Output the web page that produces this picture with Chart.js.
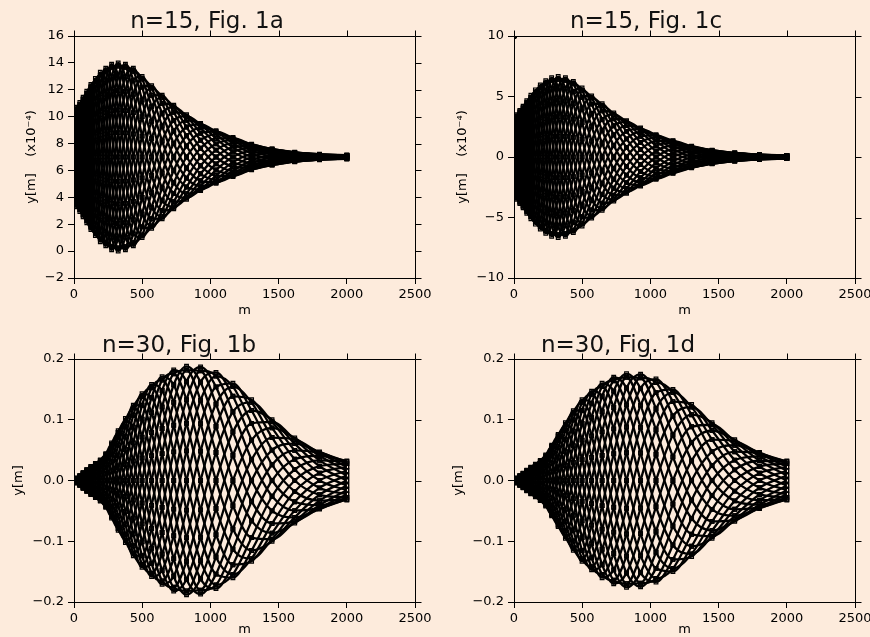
<!DOCTYPE html>
<html><head><meta charset="utf-8">
<script src="https://cdn.jsdelivr.net/npm/chart.js@4.4.1/dist/chart.umd.min.js"></script>
<style>
html,body{margin:0;padding:0;background:#fdebdc;width:870px;height:637px;overflow:hidden}
canvas{position:absolute;display:block}
</style></head><body>
<canvas id="c1a" width="435" height="318" style="left:0;top:0;width:435px;height:318px"></canvas>
<canvas id="c1c" width="435" height="318" style="left:435px;top:0;width:435px;height:318px"></canvas>
<canvas id="c1b" width="435" height="319" style="left:0;top:318px;width:435px;height:319px"></canvas>
<canvas id="c1d" width="435" height="319" style="left:435px;top:318px;width:435px;height:319px"></canvas>
<script>
// ---- data ----
const mValues = [0,20,43,67,94,124,157,193,233,276,324,377,435,499,569,646,731,825,928,1041,1165,1302,1452,1618,1800,2000];
const xTickValues = [0,500,1000,1500,2000,2500];
const xTickLabels = ['0','500','1000','1500','2000','2500'];
const yTicks1a = [-2,0,2,4,6,8,10,12,14,16];
const yTickLabels1a = ['\u22122','0','2','4','6','8','10','12','14','16'];
const yTicks1c = [-10,-5,0,5,10];
const yTickLabels1c = ['\u221210','\u22125','0','5','10'];
const yTicksB = [-0.2,-0.1,0,0.1,0.2];
const yTickLabelsB = ['\u22120.2','\u22120.1','0.0','0.1','0.2'];

const fig1a = [
[10.4,10.2,9.03,7,4.55,2.32,1.15,1.54,3.7,7,10.5,12.98,13.6,12.2,9.65,7,5.08,4.27,4.5,5.31,6.28,7,7.3,7.3,7.2,7.11],
[9.94,8.85,7,4.78,2.76,1.6,1.93,3.85,7,10.45,13.06,13.9,12.72,10,7,4.7,3.67,3.85,4.84,6.03,7,7.48,7.52,7.35,7.17,7.07],
[8.7,7,4.98,3.15,2.1,2.32,4.08,7,10.3,12.98,14,12.98,10.3,7,4.35,3.02,3.15,4.27,5.75,7,7.73,7.82,7.6,7.3,7.1,7],
[7,5.15,3.49,2.55,2.76,4.3,7,10.15,12.72,13.9,13.06,10.45,7,4,2.41,2.4,3.67,5.43,7,7.98,8.26,7.95,7.52,7.18,7,6.94],
[5.3,3.8,2.95,3.15,4.55,7,9.93,12.46,13.6,12.98,10.5,7,3.7,1.8,1.7,3.02,5.08,7,8.25,8.69,8.45,7.82,7.3,7,6.9,6.89],
[4.06,3.3,3.49,4.78,7,9.7,12.07,13.3,12.72,10.45,7,3.55,1.28,1,2.41,4.7,7,8.58,9.17,8.95,8.26,7.48,7,6.83,6.83,6.87],
[3.6,3.8,4.98,7,9.45,11.68,12.85,12.46,10.3,7,3.5,1.02,0.4,1.8,4.35,7,8.93,9.73,9.5,8.69,7.73,7,6.7,6.7,6.8,6.89],
[4.06,5.15,7,9.23,11.24,12.4,12.07,10.15,7,3.55,0.94,0.1,1.28,4,7,9.3,10.33,10.15,9.17,7.98,7,6.53,6.48,6.65,6.83,6.94],
[5.3,7,9.03,10.85,11.9,11.68,9.93,7,3.7,1.02,0,1.02,3.7,7,9.65,10.98,10.85,9.73,8.25,7,6.28,6.18,6.4,6.7,6.9,7],
[7,8.85,10.51,11.45,11.24,9.7,7,3.85,1.28,0.1,0.94,3.55,7,10,11.59,11.6,10.33,8.58,7,6.03,5.74,6.05,6.48,6.83,7,7.07],
[8.7,10.2,11.05,10.85,9.45,7,4.08,1.54,0.4,1.02,3.5,7,10.3,12.2,12.3,10.98,8.93,7,5.75,5.31,5.55,6.18,6.7,7,7.1,7.11],
[9.94,10.7,10.51,9.23,7,4.3,1.93,0.7,1.28,3.55,7,10.45,12.72,13,11.59,9.3,7,5.43,4.84,5.05,5.74,6.53,7,7.18,7.17,7.13]
];
const fig1aHalf = [
[10.28,9.62,8.05,5.85,3.54,1.78,1.35,2.55,5.29,8.79,11.95,13.67,13.38,11.24,8.37,5.81,4.28,3.96,4.58,5.62,6.62,7.25,7.42,7.34,7.19,7.09],
[9.4,7.96,5.95,3.85,2.27,1.78,2.86,5.37,8.71,11.88,13.76,13.67,11.67,8.55,5.63,3.75,3.28,3.96,5.23,6.49,7.38,7.67,7.58,7.34,7.14,7.03],
[7.88,6.04,4.14,2.7,2.27,3.18,5.48,8.63,11.67,13.67,13.76,11.88,8.71,5.45,3.25,2.56,3.28,4.77,6.35,7.51,8.03,7.92,7.58,7.25,7.05,6.97],
[6.12,4.38,3.09,2.7,3.54,5.6,8.52,11.45,13.38,13.67,11.95,8.79,5.29,2.76,1.88,2.56,4.28,6.18,7.65,8.38,8.4,7.92,7.42,7.09,6.95,6.91],
[4.6,3.43,3.09,3.85,5.73,8.4,11.14,13.09,13.38,11.88,8.81,5.21,2.33,1.2,1.88,3.75,6,7.82,8.77,8.88,8.4,7.67,7.16,6.91,6.86,6.87],
[3.72,3.43,4.14,5.85,8.27,10.82,12.65,13.09,11.67,8.79,5.19,2.12,0.62,1.2,3.25,5.81,8,9.23,9.42,8.88,8.03,7.25,6.84,6.75,6.81,6.87],
[3.72,4.38,5.95,8.15,10.46,12.22,12.65,11.45,8.71,5.21,2.05,0.33,0.62,2.76,5.63,8.19,9.72,10.04,9.42,8.38,7.38,6.75,6.58,6.66,6.81,6.91],
[4.6,6.04,8.05,10.15,11.73,12.22,11.14,8.63,5.29,2.12,0.24,0.33,2.33,5.45,8.37,10.25,10.72,10.04,8.77,7.51,6.62,6.33,6.42,6.66,6.86,6.97],
[6.12,7.96,9.86,11.3,11.73,10.82,8.52,5.37,2.33,0.33,0.24,2.12,5.29,8.55,10.75,11.44,10.72,9.23,7.65,6.49,5.97,6.08,6.42,6.75,6.95,7.03],
[7.88,9.62,10.91,11.3,10.46,8.4,5.48,2.55,0.62,0.33,2.05,5.21,8.71,11.24,12.12,11.44,9.72,7.82,6.35,5.62,5.6,6.08,6.58,6.91,7.05,7.09],
[9.4,10.57,10.91,10.15,8.27,5.6,2.86,0.91,0.62,2.12,5.19,8.79,11.67,12.8,12.12,10.25,8,6.18,5.23,5.12,5.6,6.33,6.84,7.09,7.14,7.13],
[10.28,10.57,9.86,8.15,5.73,3.18,1.35,0.91,2.33,5.21,8.81,11.88,13.38,12.8,10.75,8.19,6,4.77,4.58,5.12,5.97,6.75,7.16,7.25,7.19,7.13]
];

const fig1c = [
[3.2,3.03,1.93,0,-2.33,-4.42,-5.55,-5.15,-3.15,0,3.33,5.67,6.25,4.94,2.53,0,-1.83,-2.6,-2.4,-1.6,-0.68,0,0.29,0.29,0.2,0.11],
[2.77,1.75,0,-2.1,-4.03,-5.1,-4.81,-2.98,0,3.28,5.76,6.55,5.41,2.85,0,-2.2,-3.16,-3,-2.08,-0.93,0,0.45,0.49,0.34,0.17,0.07],
[1.6,0,-1.93,-3.64,-4.65,-4.42,-2.78,0,3.15,5.67,6.65,5.67,3.13,0,-2.53,-3.81,-3.65,-2.6,-1.2,0,0.68,0.78,0.57,0.29,0.1,0],
[0,-1.75,-3.33,-4.2,-4.03,-2.55,0,2.98,5.46,6.55,5.76,3.28,0,-2.85,-4.37,-4.4,-3.16,-1.5,0,0.93,1.17,0.9,0.49,0.17,0,-0.07],
[-1.6,-3.03,-3.85,-3.64,-2.33,0,2.78,5.15,6.3,5.67,3.33,0,-3.13,-4.94,-5.05,-3.81,-1.83,0,1.2,1.6,1.35,0.78,0.29,0,-0.1,-0.11],
[-2.77,-3.5,-3.33,-2.1,0,2.55,4.81,5.95,5.46,3.28,0,-3.28,-5.41,-5.7,-4.37,-2.2,0,1.5,2.08,1.85,1.17,0.45,0,-0.17,-0.17,-0.13],
[-3.2,-3.03,-1.93,0,2.33,4.42,5.55,5.15,3.15,0,-3.33,-5.67,-6.25,-4.94,-2.53,0,1.83,2.6,2.4,1.6,0.68,0,-0.29,-0.29,-0.2,-0.11],
[-2.77,-1.75,0,2.1,4.03,5.1,4.81,2.98,0,-3.28,-5.76,-6.55,-5.41,-2.85,0,2.2,3.16,3,2.08,0.93,0,-0.45,-0.49,-0.34,-0.17,-0.07],
[-1.6,0,1.93,3.64,4.65,4.42,2.78,0,-3.15,-5.67,-6.65,-5.67,-3.13,0,2.53,3.81,3.65,2.6,1.2,0,-0.68,-0.78,-0.57,-0.29,-0.1,0],
[0,1.75,3.33,4.2,4.03,2.55,0,-2.98,-5.46,-6.55,-5.76,-3.28,0,2.85,4.37,4.4,3.16,1.5,0,-0.93,-1.17,-0.9,-0.49,-0.17,0,0.07],
[1.6,3.03,3.85,3.64,2.33,0,-2.78,-5.15,-6.3,-5.67,-3.33,0,3.13,4.94,5.05,3.81,1.83,0,-1.2,-1.6,-1.35,-0.78,-0.29,0,0.1,0.11],
[2.77,3.5,3.33,2.1,0,-2.55,-4.81,-5.95,-5.46,-3.28,0,3.28,5.41,5.7,4.37,2.2,0,-1.5,-2.08,-1.85,-1.17,-0.45,0,0.17,0.17,0.13]
];
const fig1cHalf = [
[3.09,2.47,1.0,-1.09,-3.29,-4.93,-5.36,-4.21,-1.63,1.7,4.7,6.33,6.04,4.03,1.31,-1.14,-2.58,-2.9,-2.32,-1.31,-0.35,0.23,0.4,0.33,0.19,0.09],
[2.26,0.91,-1.0,-2.97,-4.49,-4.93,-3.92,-1.54,1.63,4.63,6.42,6.33,4.42,1.48,-1.31,-3.11,-3.53,-2.9,-1.7,-0.48,0.35,0.64,0.55,0.33,0.14,0.03],
[0.83,-0.91,-2.72,-4.06,-4.49,-3.61,-1.44,1.54,4.45,6.33,6.42,4.63,1.62,-1.48,-3.57,-4.25,-3.53,-2.12,-0.62,0.48,0.95,0.87,0.55,0.24,0.05,-0.03],
[-0.83,-2.47,-3.72,-4.06,-3.29,-1.32,1.44,4.21,6.09,6.33,4.7,1.7,-1.62,-4.03,-4.88,-4.25,-2.58,-0.78,0.62,1.31,1.3,0.87,0.4,0.09,-0.05,-0.09],
[-2.26,-3.38,-3.72,-2.97,-1.2,1.32,3.92,5.75,6.09,4.63,1.72,-1.7,-4.42,-5.51,-4.88,-3.11,-0.95,0.78,1.7,1.79,1.3,0.64,0.15,-0.09,-0.14,-0.13],
[-3.09,-3.38,-2.72,-1.09,1.2,3.61,5.36,5.75,4.45,1.7,-1.72,-4.63,-6.04,-5.51,-3.57,-1.14,0.95,2.12,2.32,1.79,0.95,0.23,-0.15,-0.24,-0.19,-0.13],
[-3.09,-2.47,-1.0,1.09,3.29,4.93,5.36,4.21,1.63,-1.7,-4.7,-6.33,-6.04,-4.03,-1.31,1.14,2.58,2.9,2.32,1.31,0.35,-0.23,-0.4,-0.33,-0.19,-0.09],
[-2.26,-0.91,1.0,2.97,4.49,4.93,3.92,1.54,-1.63,-4.63,-6.42,-6.33,-4.42,-1.48,1.31,3.11,3.53,2.9,1.7,0.48,-0.35,-0.64,-0.55,-0.33,-0.14,-0.03],
[-0.83,0.91,2.72,4.06,4.49,3.61,1.44,-1.54,-4.45,-6.33,-6.42,-4.63,-1.62,1.48,3.57,4.25,3.53,2.12,0.62,-0.48,-0.95,-0.87,-0.55,-0.24,-0.05,0.03],
[0.83,2.47,3.72,4.06,3.29,1.32,-1.44,-4.21,-6.09,-6.33,-4.7,-1.7,1.62,4.03,4.88,4.25,2.58,0.78,-0.62,-1.31,-1.3,-0.87,-0.4,-0.09,0.05,0.09],
[2.26,3.38,3.72,2.97,1.2,-1.32,-3.92,-5.75,-6.09,-4.63,-1.72,1.7,4.42,5.51,4.88,3.11,0.95,-0.78,-1.7,-1.79,-1.3,-0.64,-0.15,0.09,0.14,0.13],
[3.09,3.38,2.72,1.09,-1.2,-3.61,-5.36,-5.75,-4.45,-1.7,1.72,4.63,6.04,5.51,3.57,1.14,-0.95,-2.12,-2.32,-1.79,-0.95,-0.23,0.15,0.24,0.19,0.13]
];
const fig1cStray = [{x:0, y:10}];

const fig1b = [
[0,0.0035,0.004,0,-0.009,-0.0199,-0.028,-0.0294,-0.022,0,0.041,0.0883,0.124,0.1238,0.079,0,-0.091,-0.1628,-0.187,-0.1541,-0.08,0,0.05,0.0606,0.047,0.0277],
[0,0.002,0,-0.0065,-0.0156,-0.023,-0.0242,-0.017,0,0.031,0.071,0.102,0.1074,0.0715,0,-0.0855,-0.1576,-0.188,-0.1619,-0.089,0,0.0665,0.0866,0.07,0.0407,0.016],
[0,0,-0.004,-0.0113,-0.018,-0.0199,-0.014,0,0.022,0.0537,0.082,0.0883,0.062,0,-0.079,-0.1481,-0.182,-0.1628,-0.0935,0,0.08,0.1152,0.1,0.0606,0.0235,0],
[0,-0.002,-0.0069,-0.013,-0.0156,-0.0115,0,0.017,0.0381,0.062,0.071,0.051,0,-0.0715,-0.1368,-0.171,-0.1576,-0.094,0,0.089,0.1386,0.133,0.0866,0.035,0,-0.016],
[0,-0.0035,-0.008,-0.0113,-0.009,0,0.014,0.0294,0.044,0.0537,0.041,0,-0.062,-0.1238,-0.158,-0.1481,-0.091,0,0.0935,0.1541,0.16,0.1152,0.05,0,-0.0235,-0.0277],
[0,-0.004,-0.0069,-0.0065,0,0.0115,0.0242,0.034,0.0381,0.031,0,-0.051,-0.1074,-0.143,-0.1368,-0.0855,0,0.094,0.1619,0.178,0.1386,0.0665,0,-0.035,-0.0407,-0.032],
[0,-0.0035,-0.004,0,0.009,0.0199,0.028,0.0294,0.022,0,-0.041,-0.0883,-0.124,-0.1238,-0.079,0,0.091,0.1628,0.187,0.1541,0.08,0,-0.05,-0.0606,-0.047,-0.0277],
[0,-0.002,0,0.0065,0.0156,0.023,0.0242,0.017,0,-0.031,-0.071,-0.102,-0.1074,-0.0715,0,0.0855,0.1576,0.188,0.1619,0.089,0,-0.0665,-0.0866,-0.07,-0.0407,-0.016],
[0,0,0.004,0.0113,0.018,0.0199,0.014,0,-0.022,-0.0537,-0.082,-0.0883,-0.062,0,0.079,0.1481,0.182,0.1628,0.0935,0,-0.08,-0.1152,-0.1,-0.0606,-0.0235,0],
[0,0.002,0.0069,0.013,0.0156,0.0115,0,-0.017,-0.0381,-0.062,-0.071,-0.051,0,0.0715,0.1368,0.171,0.1576,0.094,0,-0.089,-0.1386,-0.133,-0.0866,-0.035,0,0.016],
[0,0.0035,0.008,0.0113,0.009,0,-0.014,-0.0294,-0.044,-0.0537,-0.041,0,0.062,0.1238,0.158,0.1481,0.091,0,-0.0935,-0.1541,-0.16,-0.1152,-0.05,0,0.0235,0.0277],
[0,0.004,0.0069,0.0065,0,-0.0115,-0.0242,-0.034,-0.0381,-0.031,0,0.051,0.1074,0.143,0.1368,0.0855,0,-0.094,-0.1619,-0.178,-0.1386,-0.0665,0,0.035,0.0407,0.032]
];
const fig1bHalf = [
[0,0.0028,0.0021,-0.0034,-0.0127,-0.0222,-0.027,-0.024,-0.0114,0.0161,0.058,0.0985,0.1198,0.1011,0.0409,-0.0443,-0.1287,-0.1816,-0.1806,-0.1258,-0.0414,0.0344,0.0707,0.0676,0.0454,0.0226],
[0,0.001,-0.0021,-0.0092,-0.0174,-0.0222,-0.0198,-0.0088,0.0114,0.0438,0.0792,0.0985,0.0877,0.037,-0.0409,-0.1209,-0.1758,-0.1816,-0.1322,-0.0461,0.0414,0.094,0.0966,0.0676,0.0332,0.0083],
[0,-0.001,-0.0057,-0.0126,-0.0174,-0.0163,-0.0073,0.0088,0.0311,0.0599,0.0792,0.0721,0.0321,-0.037,-0.1117,-0.1652,-0.1758,-0.1329,-0.0484,0.0461,0.1131,0.1285,0.0966,0.0495,0.0122,-0.0083],
[0,-0.0028,-0.0077,-0.0126,-0.0127,-0.006,0.0073,0.024,0.0425,0.0599,0.058,0.0264,-0.0321,-0.1011,-0.1526,-0.1652,-0.1287,-0.0487,0.0484,0.1258,0.1546,0.1285,0.0707,0.0181,-0.0122,-0.0226],
[0,-0.0039,-0.0077,-0.0092,-0.0047,0.006,0.0198,0.0328,0.0425,0.0438,0.0212,-0.0264,-0.0877,-0.1381,-0.1526,-0.1209,-0.0471,0.0487,0.1322,0.1719,0.1546,0.094,0.0259,-0.0181,-0.0332,-0.0309],
[0,-0.0039,-0.0057,-0.0034,0.0047,0.0163,0.027,0.0328,0.0311,0.0161,-0.0212,-0.0721,-0.1198,-0.1381,-0.1117,-0.0443,0.0471,0.1329,0.1806,0.1719,0.1131,0.0344,-0.0259,-0.0495,-0.0454,-0.0309],
[0,-0.0028,-0.0021,0.0034,0.0127,0.0222,0.027,0.024,0.0114,-0.0161,-0.058,-0.0985,-0.1198,-0.1011,-0.0409,0.0443,0.1287,0.1816,0.1806,0.1258,0.0414,-0.0344,-0.0707,-0.0676,-0.0454,-0.0226],
[0,-0.001,0.0021,0.0092,0.0174,0.0222,0.0198,0.0088,-0.0114,-0.0438,-0.0792,-0.0985,-0.0877,-0.037,0.0409,0.1209,0.1758,0.1816,0.1322,0.0461,-0.0414,-0.094,-0.0966,-0.0676,-0.0332,-0.0083],
[0,0.001,0.0057,0.0126,0.0174,0.0163,0.0073,-0.0088,-0.0311,-0.0599,-0.0792,-0.0721,-0.0321,0.037,0.1117,0.1652,0.1758,0.1329,0.0484,-0.0461,-0.1131,-0.1285,-0.0966,-0.0495,-0.0122,0.0083],
[0,0.0028,0.0077,0.0126,0.0127,0.006,-0.0073,-0.024,-0.0425,-0.0599,-0.058,-0.0264,0.0321,0.1011,0.1526,0.1652,0.1287,0.0487,-0.0484,-0.1258,-0.1546,-0.1285,-0.0707,-0.0181,0.0122,0.0226],
[0,0.0039,0.0077,0.0092,0.0047,-0.006,-0.0198,-0.0328,-0.0425,-0.0438,-0.0212,0.0264,0.0877,0.1381,0.1526,0.1209,0.0471,-0.0487,-0.1322,-0.1719,-0.1546,-0.094,-0.0259,0.0181,0.0332,0.0309],
[0,0.0039,0.0057,0.0034,-0.0047,-0.0163,-0.027,-0.0328,-0.0311,-0.0161,0.0212,0.0721,0.1198,0.1381,0.1117,0.0443,-0.0471,-0.1329,-0.1806,-0.1719,-0.1131,-0.0344,0.0259,0.0495,0.0454,0.0309]
];

const fig1d = [
[0,0.0035,0.004,0,-0.0085,-0.0191,-0.027,-0.0286,-0.021,0,0.038,0.0823,0.115,0.1152,0.0735,0,-0.085,-0.1524,-0.175,-0.1446,-0.075,0,0.0475,0.058,0.046,0.0277],
[0,0.002,0,-0.006,-0.0147,-0.022,-0.0234,-0.0165,0,0.029,0.0658,0.095,0.0996,0.0665,0,-0.08,-0.1472,-0.176,-0.1516,-0.0835,0,0.0625,0.0823,0.067,0.0398,0.016],
[0,0,-0.004,-0.0104,-0.017,-0.0191,-0.0135,0,0.021,0.0502,0.076,0.0823,0.0575,0,-0.0735,-0.1386,-0.17,-0.1524,-0.0875,0,0.075,0.1083,0.095,0.058,0.023,0],
[0,-0.002,-0.0069,-0.012,-0.0147,-0.011,0,0.0165,0.0364,0.058,0.0658,0.0475,0,-0.0665,-0.1273,-0.16,-0.1472,-0.088,0,0.0835,0.1299,0.125,0.0823,0.0335,0,-0.016],
[0,-0.0035,-0.008,-0.0104,-0.0085,0,0.0135,0.0286,0.042,0.0502,0.038,0,-0.0575,-0.1152,-0.147,-0.1386,-0.085,0,0.0875,0.1446,0.15,0.1083,0.0475,0,-0.023,-0.0277],
[0,-0.004,-0.0069,-0.006,0,0.011,0.0234,0.033,0.0364,0.029,0,-0.0475,-0.0996,-0.133,-0.1273,-0.08,0,0.088,0.1516,0.167,0.1299,0.0625,0,-0.0335,-0.0398,-0.032],
[0,-0.0035,-0.004,0,0.0085,0.0191,0.027,0.0286,0.021,0,-0.038,-0.0823,-0.115,-0.1152,-0.0735,0,0.085,0.1524,0.175,0.1446,0.075,0,-0.0475,-0.058,-0.046,-0.0277],
[0,-0.002,0,0.006,0.0147,0.022,0.0234,0.0165,0,-0.029,-0.0658,-0.095,-0.0996,-0.0665,0,0.08,0.1472,0.176,0.1516,0.0835,0,-0.0625,-0.0823,-0.067,-0.0398,-0.016],
[0,0,0.004,0.0104,0.017,0.0191,0.0135,0,-0.021,-0.0502,-0.076,-0.0823,-0.0575,0,0.0735,0.1386,0.17,0.1524,0.0875,0,-0.075,-0.1083,-0.095,-0.058,-0.023,0],
[0,0.002,0.0069,0.012,0.0147,0.011,0,-0.0165,-0.0364,-0.058,-0.0658,-0.0475,0,0.0665,0.1273,0.16,0.1472,0.088,0,-0.0835,-0.1299,-0.125,-0.0823,-0.0335,0,0.016],
[0,0.0035,0.008,0.0104,0.0085,0,-0.0135,-0.0286,-0.042,-0.0502,-0.038,0,0.0575,0.1152,0.147,0.1386,0.085,0,-0.0875,-0.1446,-0.15,-0.1083,-0.0475,0,0.023,0.0277],
[0,0.004,0.0069,0.006,0,-0.011,-0.0234,-0.033,-0.0364,-0.029,0,0.0475,0.0996,0.133,0.1273,0.08,0,-0.088,-0.1516,-0.167,-0.1299,-0.0625,0,0.0335,0.0398,0.032]
];
const fig1dHalf = [
[0,0.0028,0.0021,-0.0031,-0.012,-0.0213,-0.0261,-0.0233,-0.0109,0.015,0.0537,0.0918,0.1111,0.094,0.0381,-0.0414,-0.1202,-0.17,-0.1691,-0.1181,-0.0389,0.0324,0.0672,0.0647,0.0444,0.0226],
[0,0.001,-0.0021,-0.0085,-0.0164,-0.0213,-0.0191,-0.0085,0.0109,0.041,0.0734,0.0918,0.0813,0.0344,-0.0381,-0.1131,-0.1642,-0.17,-0.1237,-0.0433,0.0389,0.0884,0.0918,0.0647,0.0325,0.0083],
[0,-0.001,-0.0057,-0.0116,-0.0164,-0.0156,-0.007,0.0085,0.0297,0.056,0.0734,0.0672,0.0298,-0.0344,-0.1039,-0.1546,-0.1642,-0.1244,-0.0453,0.0433,0.1061,0.1208,0.0918,0.0474,0.0119,-0.0083],
[0,-0.0028,-0.0077,-0.0116,-0.012,-0.0057,0.007,0.0233,0.0406,0.056,0.0537,0.0246,-0.0298,-0.094,-0.142,-0.1546,-0.1202,-0.0456,0.0453,0.1181,0.1449,0.1208,0.0672,0.0174,-0.0119,-0.0226],
[0,-0.0039,-0.0077,-0.0085,-0.0044,0.0057,0.0191,0.0319,0.0406,0.041,0.0197,-0.0246,-0.0813,-0.1285,-0.142,-0.1131,-0.044,0.0456,0.1237,0.1613,0.1449,0.0884,0.0246,-0.0174,-0.0325,-0.0309],
[0,-0.0039,-0.0057,-0.0031,0.0044,0.0156,0.0261,0.0319,0.0297,0.015,-0.0197,-0.0672,-0.1111,-0.1285,-0.1039,-0.0414,0.044,0.1244,0.1691,0.1613,0.1061,0.0324,-0.0246,-0.0474,-0.0444,-0.0309],
[0,-0.0028,-0.0021,0.0031,0.012,0.0213,0.0261,0.0233,0.0109,-0.015,-0.0537,-0.0918,-0.1111,-0.094,-0.0381,0.0414,0.1202,0.17,0.1691,0.1181,0.0389,-0.0324,-0.0672,-0.0647,-0.0444,-0.0226],
[0,-0.001,0.0021,0.0085,0.0164,0.0213,0.0191,0.0085,-0.0109,-0.041,-0.0734,-0.0918,-0.0813,-0.0344,0.0381,0.1131,0.1642,0.17,0.1237,0.0433,-0.0389,-0.0884,-0.0918,-0.0647,-0.0325,-0.0083],
[0,0.001,0.0057,0.0116,0.0164,0.0156,0.007,-0.0085,-0.0297,-0.056,-0.0734,-0.0672,-0.0298,0.0344,0.1039,0.1546,0.1642,0.1244,0.0453,-0.0433,-0.1061,-0.1208,-0.0918,-0.0474,-0.0119,0.0083],
[0,0.0028,0.0077,0.0116,0.012,0.0057,-0.007,-0.0233,-0.0406,-0.056,-0.0537,-0.0246,0.0298,0.094,0.142,0.1546,0.1202,0.0456,-0.0453,-0.1181,-0.1449,-0.1208,-0.0672,-0.0174,0.0119,0.0226],
[0,0.0039,0.0077,0.0085,0.0044,-0.0057,-0.0191,-0.0319,-0.0406,-0.041,-0.0197,0.0246,0.0813,0.1285,0.142,0.1131,0.044,-0.0456,-0.1237,-0.1613,-0.1449,-0.0884,-0.0246,0.0174,0.0325,0.0309],
[0,0.0039,0.0057,0.0031,-0.0044,-0.0156,-0.0261,-0.0319,-0.0297,-0.015,0.0197,0.0672,0.1111,0.1285,0.1039,0.0414,-0.044,-0.1244,-0.1691,-0.1613,-0.1061,-0.0324,0.0246,0.0474,0.0444,0.0309]
];

// ---- drawing ----
Chart.defaults.font.family = "'DejaVu Sans', sans-serif";
Chart.defaults.color = '#000';

const framePlugin = {
  id: 'frame',
  afterDraw(chart, args, opts) {
    const {ctx, chartArea: a} = chart;
    const xs = chart.scales.x, ys = chart.scales.y;
    ctx.save();
    ctx.strokeStyle = '#000';
    ctx.lineWidth = 1;
    const t = Math.round(a.top) + 0.5, r = Math.round(a.right) + 0.5;
    ctx.beginPath();
    ctx.moveTo(Math.round(a.left), t); ctx.lineTo(r, t); ctx.lineTo(r, Math.round(a.bottom) + 1);
    xs.ticks.forEach(tk => { const px = Math.round(xs.getPixelForValue(tk.value)) + 0.5; ctx.moveTo(px, t); ctx.lineTo(px, t - 6); });
    ys.ticks.forEach(tk => { const py = Math.round(ys.getPixelForValue(tk.value)) + 0.5; ctx.moveTo(r, py); ctx.lineTo(r + 6, py); });
    ctx.stroke();
    ctx.font = opts.font;
    ctx.fillStyle = '#111';
    ctx.textAlign = 'center';
    ctx.textBaseline = 'alphabetic';
    ctx.fillText(opts.text, opts.x, opts.y);
    ctx.restore();
  }
};

function panel(id, curves, o) {
  const datasets = curves.map(c => ({
    data: c.map((v, i) => ({x: mValues[i], y: v})),
    showLine: true,
    borderColor: '#000',
    borderWidth: 2.3,
    cubicInterpolationMode: 'monotone',
    pointStyle: 'rect',
    pointRadius: 2.6,
    pointBorderWidth: 1.2,
    pointBorderColor: '#000',
    pointBackgroundColor: 'rgba(0,0,0,0)'
  }));
  if (o.extra) datasets.push({data: o.extra, showLine: false, pointStyle: 'circle', pointRadius: 3, pointBackgroundColor: '#000', pointBorderColor: '#000'});
  new Chart(document.getElementById(id), {
    type: 'scatter',
    data: {datasets},
    options: {
      responsive: false, animation: false, events: [],
      layout: {padding: {left: 0, top: o.top, right: o.right, bottom: 0}},
      plugins: {legend: {display: false}, tooltip: {enabled: false},
        frame: {text: o.title, x: o.tx, y: o.ty, font: "23px 'DejaVu Sans'"}},
      scales: {
        x: {
          type: 'linear', position: 'bottom', min: 0, max: 2500,
          afterBuildTicks: s => { s.ticks = xTickValues.map(v => ({value: v})); },
          afterFit: s => { s.height = o.xh; s.paddingLeft = 0; s.paddingRight = 0; },
          ticks: {color: '#000', font: {size: 13}, padding: 3, maxRotation: 0, autoSkip: false,
            callback: (v, i) => xTickLabels[i]},
          grid: {drawOnChartArea: false, drawTicks: true, tickLength: 6, tickColor: '#000', tickWidth: 1},
          border: {display: true, color: '#000', width: 1},
          title: {display: true, text: 'm', color: '#000', font: {size: 13}, padding: {top: 0, bottom: 0}}
        },
        y: {
          type: 'linear', position: 'left', min: o.ymin, max: o.ymax,
          afterBuildTicks: s => { s.ticks = o.yticks.map(v => ({value: v})); },
          afterFit: s => { s.width = o.yw; },
          ticks: {color: '#000', font: {size: 13}, padding: 4, autoSkip: false,
            callback: (v, i) => o.ylabels[i]},
          grid: {drawOnChartArea: false, drawTicks: true, tickLength: 6, tickColor: '#000', tickWidth: 1},
          border: {display: true, color: '#000', width: 1},
          title: {display: true, text: o.ytitle, color: '#000', font: {size: 13}, padding: {top: o.ypad, bottom: 0}}
        }
      }
    },
    plugins: [framePlugin]
  });
}

panel('c1a', fig1a.concat(fig1aHalf), {title: 'n=15, Fig. 1a', tx: 207, ty: 28, top: 36, right: 20, xh: 40, yw: 74,
  ymin: -2, ymax: 16, yticks: yTicks1a, ylabels: yTickLabels1a, ytitle: 'y[m]    (x10\u207B\u2074)', ypad: 24});
panel('c1c', fig1c.concat(fig1cHalf), {title: 'n=15, Fig. 1c', tx: 211, ty: 28, top: 36, right: 15, xh: 40, yw: 79,
  ymin: -10, ymax: 10, yticks: yTicks1c, ylabels: yTickLabels1c, ytitle: 'y[m]    (x10\u207B\u2074)', ypad: 20, extra: fig1cStray});
panel('c1b', fig1b.concat(fig1bHalf), {title: 'n=30, Fig. 1b', tx: 179, ty: 34, top: 41, right: 20, xh: 35, yw: 74,
  ymin: -0.2, ymax: 0.2, yticks: yTicksB, ylabels: yTickLabelsB, ytitle: 'y[m]', ypad: 11});
panel('c1d', fig1d.concat(fig1dHalf), {title: 'n=30, Fig. 1d', tx: 183, ty: 34, top: 41, right: 15, xh: 35, yw: 79,
  ymin: -0.2, ymax: 0.2, yticks: yTicksB, ylabels: yTickLabelsB, ytitle: 'y[m]', ypad: 16});
</script>
</body></html>
